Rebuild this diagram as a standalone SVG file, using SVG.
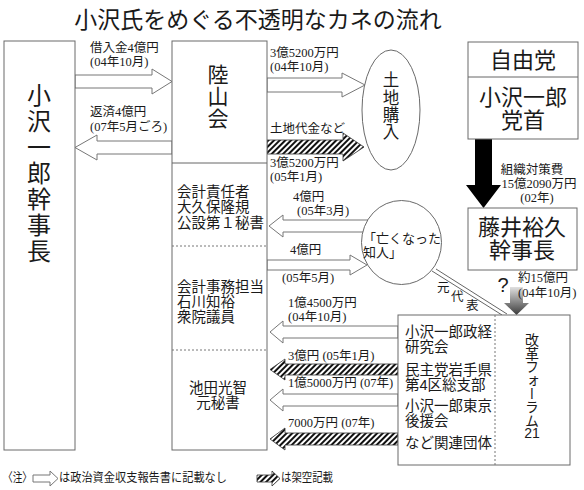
<svg xmlns="http://www.w3.org/2000/svg" width="584" height="490" viewBox="0 0 584 490">
<defs>
<pattern id="hatch" width="4" height="4" patternUnits="userSpaceOnUse" patternTransform="rotate(45)">
<rect width="4" height="4" fill="#fff"/><rect width="2" height="4" fill="#111"/>
</pattern>
<linearGradient id="grad" x1="0" y1="0" x2="0" y2="1">
<stop offset="0" stop-color="#e0e0e0"/><stop offset="1" stop-color="#3a3a3a"/>
</linearGradient>
<style>
.box{fill:#fff;stroke:#6a6a6a;stroke-width:1}
.dot{stroke:#777;stroke-width:1;stroke-dasharray:2 2;fill:none}
.oarr{fill:#fff;stroke:#777;stroke-width:1}
.harr{fill:url(#hatch);stroke:#333;stroke-width:0.8}
.ln{stroke:#666;stroke-width:1;fill:none}
text{dominant-baseline:central;fill:#1a1a1a}
.g{font-family:"Liberation Sans","Noto Sans CJK JP",sans-serif}
.cjk{font-family:"Noto Sans CJK JP",sans-serif}
.vt{writing-mode:vertical-rl;text-anchor:middle}
.m{font-family:"Liberation Serif","Noto Sans CJK JP",serif;font-size:12.5px}
.b22{font-size:22px;text-anchor:middle}
.s14{font-size:14.5px}
.mid{text-anchor:middle}
</style>
</defs>
<rect width="584" height="490" fill="#fff"/>
<text class="cjk" x="258" y="18" font-size="23" text-anchor="middle">小沢氏をめぐる不透明なカネの流れ</text>

<g id="connectors">
<path class="oarr" d="M75,75 H152 V69 L172,81.5 L152,94 V88 H75 Z"/>
<text class="m"><tspan x="90" y="48">借入金4億円</tspan><tspan x="90" y="62">(04年10月)</tspan></text>
<path class="oarr" d="M172,141 H97 V135 L75,147.5 L97,160 V154 H172 Z"/>
<text class="m"><tspan x="90" y="112">返済4億円</tspan><tspan x="90" y="127">(07年5月ごろ)</tspan></text>
<path class="oarr" d="M267,78 H342 V73 L365,85 L342,97 V92 H267 Z"/>
<text class="m"><tspan x="270" y="53">3億5200万円</tspan><tspan x="270" y="67">(04年10月)</tspan></text>
<path class="harr" d="M267,140 H343 V133 L364,147 L343,161 V154 H267 Z"/>
<text class="m" x="270" y="129">土地代金など</text>
<text class="m"><tspan x="270" y="163">3億5200万円</tspan><tspan x="270" y="177">(05年1月)</tspan></text>
<path class="oarr" d="M368,220 H283 V215 L269,226 L283,237 V232 H368 Z"/>
<text class="m"><tspan x="293" y="197">4億円</tspan><tspan x="297" y="211">(05年3月)</tspan></text>
<path class="oarr" d="M267,260 H350 V255 L367,265 L350,275 V270 H267 Z"/>
<text class="m" x="290" y="250">4億円</text>
<text class="m" x="282" y="278">(05年5月)</text>
<path class="oarr" d="M398,326 H283 V321 L270,332 L283,343 V338 H398 Z"/>
<text class="m"><tspan x="288" y="303">1億4500万円</tspan><tspan x="288" y="317">(04年10月)</tspan></text>
<path class="harr" d="M398,364 H285 V359 L270,369.5 L285,380 V375 H398 Z"/>
<text class="m" x="288" y="356">3億円 (05年1月)</text>
<path class="oarr" d="M398,394 H283 V389 L270,400 L283,411 V406 H398 Z"/>
<text class="m" x="288" y="383">1億5000万円 (07年)</text>
<path class="harr" d="M398,433 H285 V428 L270,439 L285,450 V445 H398 Z"/>
<text class="m" x="288" y="423">7000万円 (07年)</text>
<path d="M475,139 H492 V185 H501 L483.5,208 L466,185 H475 Z" fill="#000"/>
<text class="m mid"><tspan x="532" y="170">組織対策費</tspan><tspan x="539" y="184">15億2090万円</tspan><tspan x="537" y="198">(02年)</tspan></text>
<path d="M510,287 H523 V303 H529 L516.5,315 L504,303 H510 Z" fill="url(#grad)"/>
<text class="g" x="503" y="285" font-size="20" text-anchor="middle">?</text>
<text class="m"><tspan x="518" y="278">約15億円</tspan><tspan x="518" y="293">(04年10月)</tspan></text>
<line class="ln" x1="432" y1="271" x2="502" y2="315"/>
<line class="ln" x1="436" y1="269" x2="507" y2="314"/>
<text class="m"><tspan x="437" y="288">元</tspan><tspan x="451" y="297">代</tspan><tspan x="466" y="306">表</tspan></text>
</g>

<g id="ozawa-kanjicho">
<rect class="box" x="4" y="41" width="71" height="409"/>
<text class="cjk vt" x="39" y="174" font-size="24" letter-spacing="2">小沢一郎幹事長</text>
</g>

<g id="rikuzankai">
<rect class="box" x="172" y="41" width="95" height="409"/>
<line class="ln" x1="172" y1="163" x2="267" y2="163"/>
<line class="dot" x1="172" y1="246" x2="267" y2="246"/>
<line class="dot" x1="172" y1="350" x2="267" y2="350"/>
<text class="cjk vt" x="218" y="96.5" font-size="21" letter-spacing="1">陸山会</text>
<text class="g s14"><tspan x="177" y="192">会計責任者</tspan><tspan x="177" y="207">大久保隆規</tspan><tspan x="177" y="223">公設第１秘書</tspan></text>
<text class="g s14"><tspan x="177" y="287">会計事務担当</tspan><tspan x="177" y="302">石川知裕</tspan><tspan x="177" y="317">衆院議員</tspan></text>
<text class="g s14 mid"><tspan x="218" y="388">池田光智</tspan><tspan x="218" y="403">元秘書</tspan></text>
</g>

<g id="tochi-konyu">
<ellipse class="box" cx="391" cy="110" rx="29" ry="60"/>
<text class="cjk vt" x="391" y="106.5" font-size="16.5" letter-spacing="0.8">土地購入</text>
</g>

<g id="nakunatta-chijin">
<ellipse class="box" cx="401.5" cy="242.5" rx="40" ry="42"/>
<text class="g" font-size="13"><tspan x="363" y="238">「亡くなった</tspan><tspan x="363" y="252">知人」</tspan></text>
</g>

<g id="jiyuto">
<rect class="box" x="468" y="42" width="110" height="97"/>
<line class="ln" x1="468" y1="77" x2="578" y2="77"/>
<text class="g b22" x="523" y="60">自由党</text>
<text class="g b22"><tspan x="523" y="97">小沢一郎</tspan><tspan x="523" y="120">党首</tspan></text>
</g>

<g id="fujii">
<rect class="box" x="468" y="208" width="109" height="62"/>
<text class="g b22"><tspan x="522" y="227">藤井裕久</tspan><tspan x="522" y="250">幹事長</tspan></text>
</g>

<g id="kanren-dantai">
<rect class="box" x="398" y="315" width="172" height="150"/>
<line class="dot" x1="495" y1="315" x2="495" y2="465"/>
<text class="g s14"><tspan x="405" y="332">小沢一郎政経</tspan><tspan x="405" y="347">研究会</tspan><tspan x="405" y="370">民主党岩手県</tspan><tspan x="405" y="385">第4区総支部</tspan><tspan x="405" y="406">小沢一郎東京</tspan><tspan x="405" y="421">後援会</tspan><tspan x="405" y="443">など関連団体</tspan></text>
<text class="cjk vt" x="532" y="380" font-size="14" letter-spacing="-0.6">改革フォーラム</text>
<text class="g mid" font-size="14" x="532" y="433">21</text>
</g>

<g id="legend">
<text class="m" x="3" y="478" font-size="12" textLength="29" lengthAdjust="spacingAndGlyphs">〈注〉</text>
<path class="oarr" d="M33,475 H50 V471 L58,478.5 L50,486 V482 H33 Z"/>
<text class="m" x="59" y="478" font-size="12" textLength="168" lengthAdjust="spacingAndGlyphs">は政治資金収支報告書に記載なし</text>
<path class="harr" d="M257,475 H272 V471 L280,478.5 L272,486 V482 H257 Z"/>
<text class="m" x="281" y="478" font-size="12" textLength="52" lengthAdjust="spacingAndGlyphs">は架空記載</text>
</g>
</svg>
